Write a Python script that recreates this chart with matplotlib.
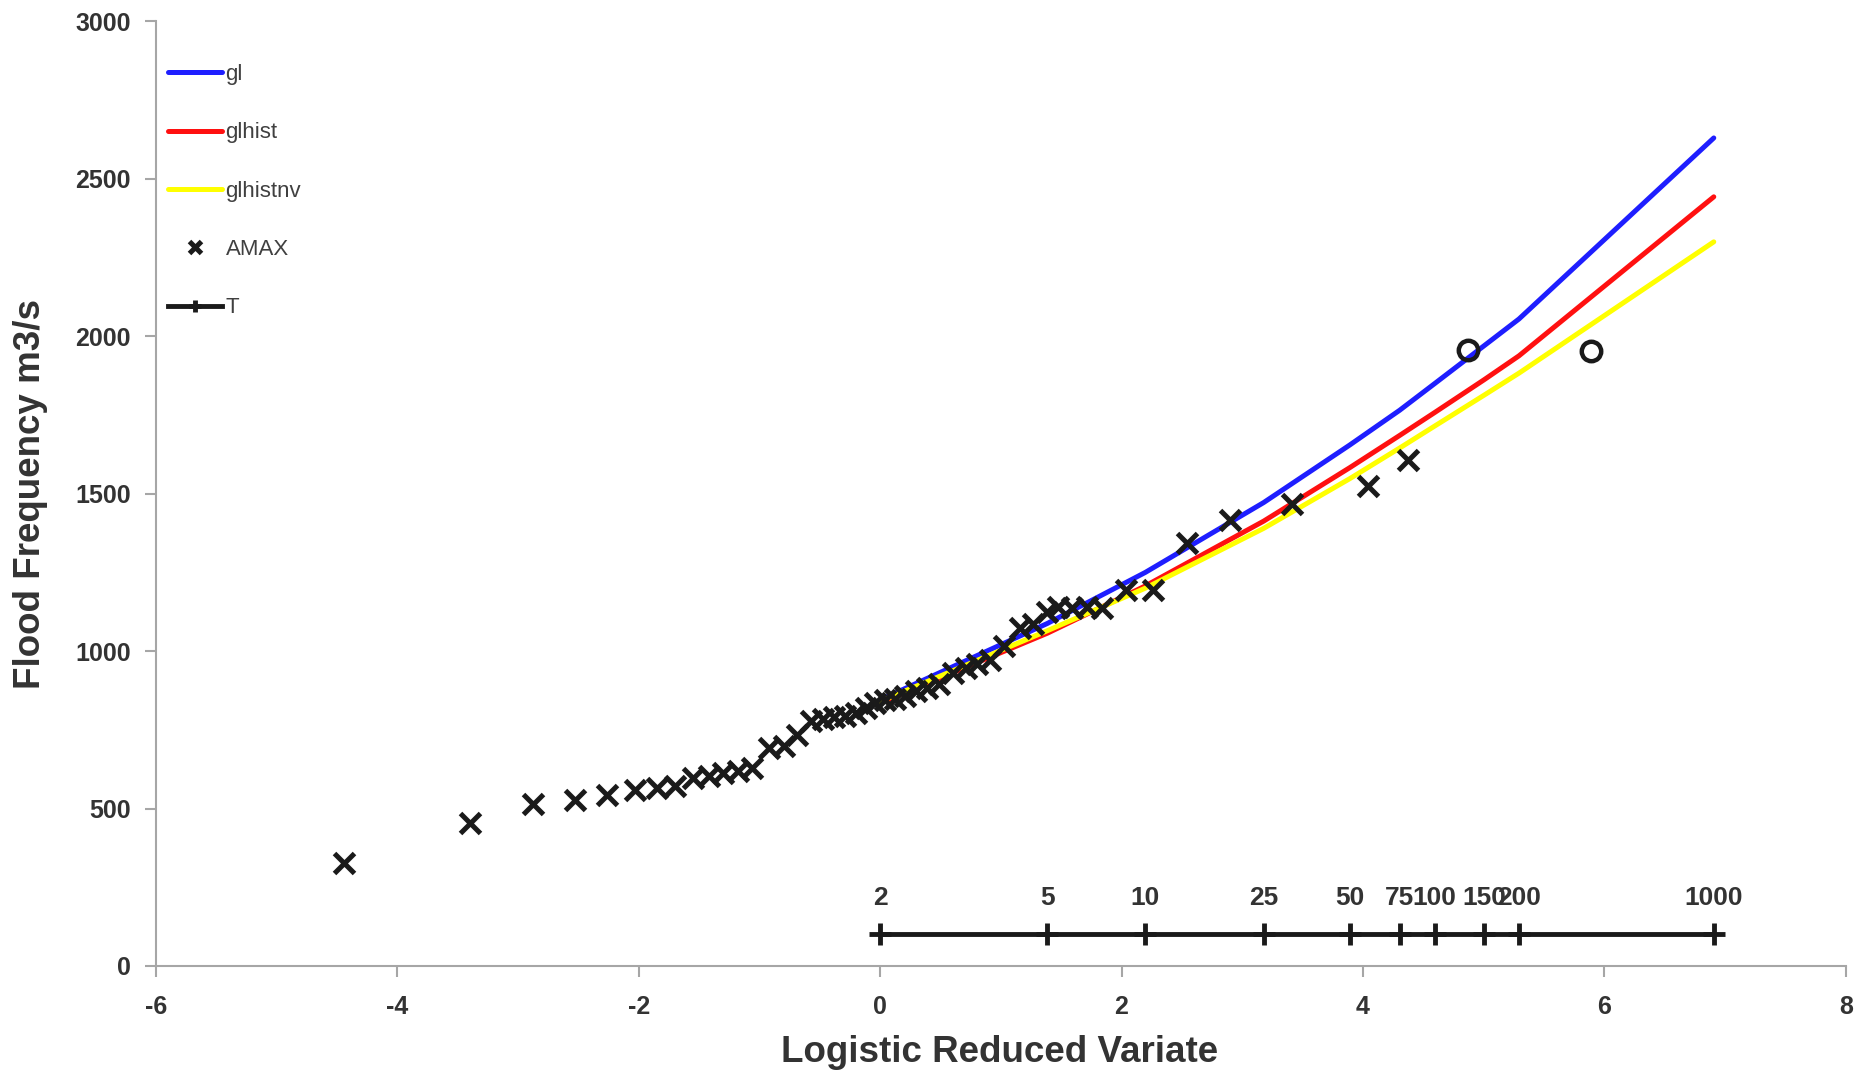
import matplotlib
matplotlib.use("Agg")
import matplotlib.pyplot as plt

plt.rcParams['font.family'] = ['Liberation Sans', 'DejaVu Sans']
plt.rcParams['axes.unicode_minus'] = False

# return periods and their logistic reduced variate
t_labels = ['2', '5', '10', '25', '50', '75', '100', '150', '200', '1000']
t_x = [0.0, 1.386, 2.197, 3.178, 3.892, 4.304, 4.595, 5.004, 5.293, 6.907]
t_level = 100

# fitted growth curves at the return period points
gl = [845, 1088, 1250, 1472, 1655, 1765, 1850, 1970, 2055, 2630]
glhist = [835, 1057, 1207, 1413, 1583, 1685, 1758, 1862, 1938, 2443]
glhistnv = [840, 1065, 1200, 1390, 1548, 1645, 1715, 1813, 1883, 2300]

# annual maxima (plotting position, flow)
amax_x = [-4.44, -3.40, -2.88, -2.53, -2.26, -2.03, -1.85, -1.70, -1.55, -1.42,
          -1.30, -1.18, -1.06, -0.92, -0.80, -0.69, -0.57, -0.47, -0.38, -0.29,
          -0.20, -0.12, -0.04, 0.04, 0.12, 0.21, 0.30, 0.39, 0.49, 0.60,
          0.71, 0.80, 0.91, 1.03, 1.16, 1.27, 1.38, 1.47, 1.59, 1.71,
          1.84, 2.04, 2.26, 2.54, 2.90, 3.41, 4.04, 4.37]
amax_q = [326, 455, 513, 528, 543, 560, 565, 572, 598, 604,
          612, 620, 628, 693, 700, 735, 778, 785, 790, 795,
          805, 820, 835, 845, 848, 858, 872, 882, 895, 930,
          948, 960, 972, 1015, 1075, 1085, 1125, 1140, 1137, 1140,
          1137, 1194, 1194, 1343, 1415, 1466, 1523, 1606]

# historic floods
hist_x = [4.87, 5.89]
hist_q = [1957, 1954]

fig = plt.figure(figsize=(18.7, 10.74), dpi=100)
ax = fig.add_axes([0.0834, 0.1006, 0.9036, 0.8794])

ax.plot(t_x, gl, color='#1e1eff', lw=3.6, label='gl', solid_capstyle='round')
ax.plot(t_x, glhist, color='#ff1010', lw=3.6, label='glhist', solid_capstyle='round')
ax.plot(t_x, glhistnv, color='#ffff00', lw=3.6, label='glhistnv', solid_capstyle='round')
ax.plot(amax_x, amax_q, ls='none', marker='x', ms=15, mew=3.6,
        color='#1a1a1a', label='AMAX')
ax.plot(hist_x, hist_q, ls='none', marker='o', ms=14, mew=3.2,
        mfc='none', mec='#1a1a1a')
ax.plot(t_x, [t_level] * len(t_x), color='#1a1a1a', lw=3.5, marker='+',
        ms=16, mew=3.5, label='T')

for lab, x in zip(t_labels, t_x):
    ax.text(x, 216, lab, ha='center', va='center', fontsize=19,
            fontweight='bold', color='#333333')

ax.set_xlim(-6, 8)
ax.set_ylim(0, 3000)
ax.set_xticks(range(-6, 9, 2))
ax.set_yticks(range(0, 3001, 500))

for s in ['top', 'right']:
    ax.spines[s].set_visible(False)
for s in ['left', 'bottom']:
    ax.spines[s].set_color('#a6a6a6')
    ax.spines[s].set_linewidth(1.5)
ax.tick_params(axis='both', colors='#a6a6a6', length=8, width=1.5,
               labelcolor='#333333', labelsize=18)
for lab in ax.get_xticklabels() + ax.get_yticklabels():
    lab.set_fontweight('bold')
ax.tick_params(axis='x', pad=13)
ax.tick_params(axis='y', pad=10)

ax.set_xlabel('Logistic Reduced Variate', fontsize=26.5, fontweight='bold',
              color='#333333')
ax.set_ylabel('Flood Frequency m3/s', fontsize=26.5, fontweight='bold',
              color='#333333')
ax.xaxis.set_label_coords(0.4994, -0.073)
ax.yaxis.set_label_coords(-0.064, 0.5)

leg = ax.legend(loc='upper left', bbox_to_anchor=(0.007, 0.955), frameon=False,
                fontsize=16, labelspacing=1.68, handlelength=2.45,
                handletextpad=0.15, borderpad=0, borderaxespad=0,
                markerscale=0.55)
for t in leg.get_texts():
    t.set_color('#404040')

fig.savefig('out.png', dpi=100)
